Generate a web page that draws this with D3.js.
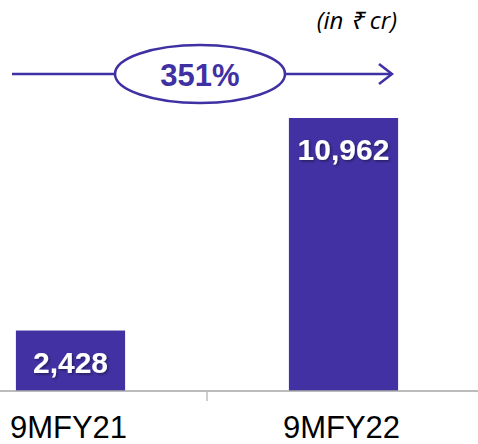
<!DOCTYPE html>
<html>
<head>
<meta charset="utf-8">
<script src="https://cdn.jsdelivr.net/npm/d3@7"></script>
<style>
  html, body { margin: 0; padding: 0; background: #fff; }
  svg { display: block; }
</style>
</head>
<body>
<svg id="chart" width="478" height="444"></svg>
<script>
// Revenue, 9 months, in ₹ crore
const categories = ["9MFY21", "9MFY22"];
const values = [2428, 10962];
const valueLabels = ["2,428", "10,962"];
const growthLabel = "351%";
const unitLabel = "(in ₹ cr)";

const W = 478, H = 444;
const baseline = 391;
const barColor = "#4131a3";
const accent = "#3f30a3";

const svg = d3.select("#chart");

const defs = svg.append("defs");
const shadow = defs.append("filter").attr("id", "shadow")
  .attr("x", "-20%").attr("y", "-20%").attr("width", "140%").attr("height", "150%");
shadow.append("feDropShadow").attr("dx", 1.5).attr("dy", 1.5)
  .attr("stdDeviation", 1).attr("flood-color", "#000").attr("flood-opacity", 0.4);

const x = d3.scaleBand().domain(categories).range([-66, 480]).padding(0);
const y = d3.scaleLinear().domain([0, d3.max(values)]).range([baseline, 118]);

const barW = x.bandwidth() * 0.4;

// bars
svg.append("g").selectAll("rect").data(values).join("rect")
  .attr("x", (d, i) => x(categories[i]) + (x.bandwidth() - barW) / 2)
  .attr("y", d => y(d))
  .attr("width", barW)
  .attr("height", d => y(0) - y(d))
  .attr("fill", barColor);

// value labels inside the bars
svg.append("g").selectAll("text").data(values).join("text")
  .attr("x", (d, i) => x(categories[i]) + x.bandwidth() / 2)
  .attr("y", d => y(d) + 42)
  .attr("text-anchor", "middle")
  .attr("font-family", "Liberation Sans, Arial, sans-serif")
  .attr("font-weight", "bold")
  .attr("font-size", 30)
  .attr("fill", "#fff")
  .attr("filter", "url(#shadow)")
  .text((d, i) => valueLabels[i]);

// category axis
svg.append("line")
  .attr("x1", 0).attr("x2", W)
  .attr("y1", baseline).attr("y2", baseline)
  .attr("stroke", "#a6a6a6").attr("stroke-width", 1.5);

svg.append("g").selectAll("line").data(categories.slice(1)).join("line")
  .attr("x1", d => x(d)).attr("x2", d => x(d))
  .attr("y1", baseline).attr("y2", baseline + 10)
  .attr("stroke", "#bfbfbf").attr("stroke-width", 1.5);

svg.append("g").selectAll("text").data(categories).join("text")
  .attr("x", d => x(d) + x.bandwidth() / 2 - 2)
  .attr("y", 438)
  .attr("text-anchor", "middle")
  .attr("font-family", "Liberation Sans, Arial, sans-serif")
  .attr("font-size", 31)
  .attr("fill", "#000")
  .text(d => d);

// growth arrow with ellipse badge
const arrowY = 74;
const cx = 200, rx = 85, ry = 29;
const g = svg.append("g").attr("stroke", accent).attr("stroke-width", 2.5).attr("fill", "none");
g.append("line").attr("x1", 12).attr("x2", cx - rx).attr("y1", arrowY).attr("y2", arrowY);
g.append("line").attr("x1", cx + rx).attr("x2", 392).attr("y1", arrowY).attr("y2", arrowY);
g.append("path")
  .attr("d", `M379,${arrowY - 10} L392,${arrowY} L379,${arrowY + 10}`)
  .attr("stroke-linejoin", "miter");
g.append("ellipse").attr("cx", cx).attr("cy", arrowY).attr("rx", rx).attr("ry", ry).attr("fill", "#fff");

svg.append("text")
  .attr("x", cx).attr("y", 86)
  .attr("text-anchor", "middle")
  .attr("font-family", "Liberation Sans, Arial, sans-serif")
  .attr("font-weight", "bold")
  .attr("font-size", 31)
  .attr("fill", accent)
  .text(growthLabel);

// unit note
svg.append("text")
  .attr("x", 397).attr("y", 29)
  .attr("text-anchor", "end")
  .attr("font-family", "Open Sans, sans-serif")
  .attr("font-style", "italic")
  .attr("font-size", 24)
  .attr("fill", "#000")
  .text(unitLabel);
</script>
</body>
</html>
